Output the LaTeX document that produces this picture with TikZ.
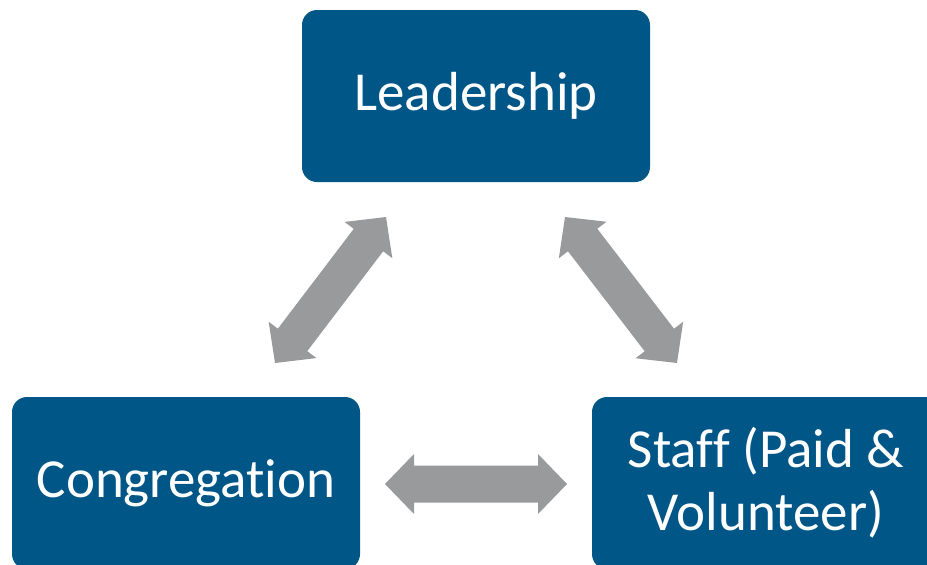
\documentclass[tikz,border=0pt]{standalone}
\usepackage{fontspec}
\setmainfont[Ligatures=CommonOff]{Carlito}
\usetikzlibrary{calc}

\definecolor{boxblue}{RGB}{0,86,135}
\definecolor{arrowgray}{RGB}{153,154,156}

% Block-style two-headed arrow between two named points
\newcommand\twowayarrow[2]{%
  \path (#1) coordinate (tA) (#2) coordinate (tB);
  \path ($(tA)!29pt!(tB)$) coordinate (hA) ($(tB)!29pt!(tA)$) coordinate (hB);
  \fill[arrowgray] (tA)
    -- ($(hA)!30pt!90:(tB)$) -- ($(hA)!18.5pt!90:(tB)$)
    -- ($(hB)!18.5pt!-90:(tA)$) -- ($(hB)!30pt!-90:(tA)$)
    -- (tB)
    -- ($(hB)!30pt!90:(tA)$) -- ($(hB)!18.5pt!90:(tA)$)
    -- ($(hA)!18.5pt!-90:(tB)$) -- ($(hA)!30pt!-90:(tB)$)
    -- cycle;
}

\tikzset{
  rolebox/.style={fill=boxblue, rounded corners=15pt, minimum width=348pt,
    minimum height=172pt, inner sep=0pt, text=white, align=center,
    font=\fontsize{55}{63}\selectfont}
}

\begin{document}
\begin{tikzpicture}[x=1pt, y=-1pt]
  \useasboundingbox (0,0) rectangle (927,565);
  \clip (0,0) rectangle (927,565);

  \node[rolebox] (lead) at (476,96) {Leadership};
  \node[rolebox] (cong) at (186,483) {Congregation};
  \node[rolebox] (staff) at (766,483) {Staff (Paid \&\\Volunteer)};

  \coordinate (lc) at (275,363);
  \coordinate (cl) at (386,217);
  \coordinate (ls) at (565,217);
  \coordinate (sl) at (677,363);
  \coordinate (cs) at (385,484);
  \coordinate (sc) at (567,484);

  \twowayarrow{lc}{cl}
  \twowayarrow{ls}{sl}
  \twowayarrow{cs}{sc}
\end{tikzpicture}
\end{document}
